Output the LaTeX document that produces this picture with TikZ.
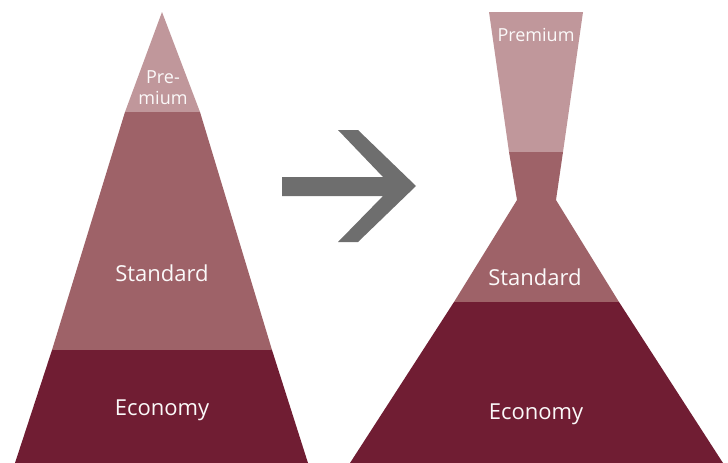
\documentclass[tikz,border=0pt]{standalone}
\usepackage{fontspec}
\setmainfont{Open Sans}
\usetikzlibrary{positioning}
\definecolor{premiumrose}{RGB}{192,151,155}
\definecolor{standardrose}{RGB}{158,98,104}
\definecolor{economywine}{RGB}{112,29,51}
\definecolor{arrowgray}{RGB}{110,110,110}

\begin{document}
\begin{tikzpicture}[
        x=1pt, y=-1pt,
        tier/.style={text=white!94!premiumrose, font=\fontsize{22}{26}\selectfont, anchor=base, inner sep=0pt},
        smalltier/.style={text=white!94!premiumrose, font=\fontsize{18}{21}\selectfont, align=center, anchor=base, inner sep=0pt}
    ]
    \useasboundingbox (0,0) rectangle (728,463);

    % Pyramide links
    \fill[premiumrose] (162,12) -- (200,112) -- (125,112) -- cycle;
    \fill[standardrose] (125,112) -- (200,112) -- (272,350) -- (52,350) -- cycle;
    \fill[economywine] (52,350) -- (272,350) -- (308,463) -- (15,463) -- cycle;

    % Sanduhr rechts
    \fill[premiumrose] (489,12) -- (583,12) -- (563,152) -- (509,152) -- cycle;
    \fill[standardrose] (509,152) -- (563,152) -- (556,200) -- (619,302) -- (454,302) -- (517,200) -- cycle;
    \fill[economywine] (454,302) -- (619,302) -- (723,463) -- (350,463) -- cycle;

    % Pfeil
    \fill[arrowgray] (282,177) -- (383,177) -- (338,130) -- (358,130) -- (416,186)
        -- (358,242) -- (338,242) -- (383,196) -- (282,196) -- cycle;

    % Beschriftung
    \node[smalltier] (lprem) at (163,104) {Pre-\\mium};
    \node[tier] (lstd) at (162,281) {Standard};
    \node[tier] (leco) at (162,415) {Economy};
    \node[smalltier] (rprem) at (536,41) {Premium};
    \node[tier] (rstd) at (535,285) {Standard};
    \node[tier] (reco) at (536,419) {Economy};

\end{tikzpicture}
\end{document}
